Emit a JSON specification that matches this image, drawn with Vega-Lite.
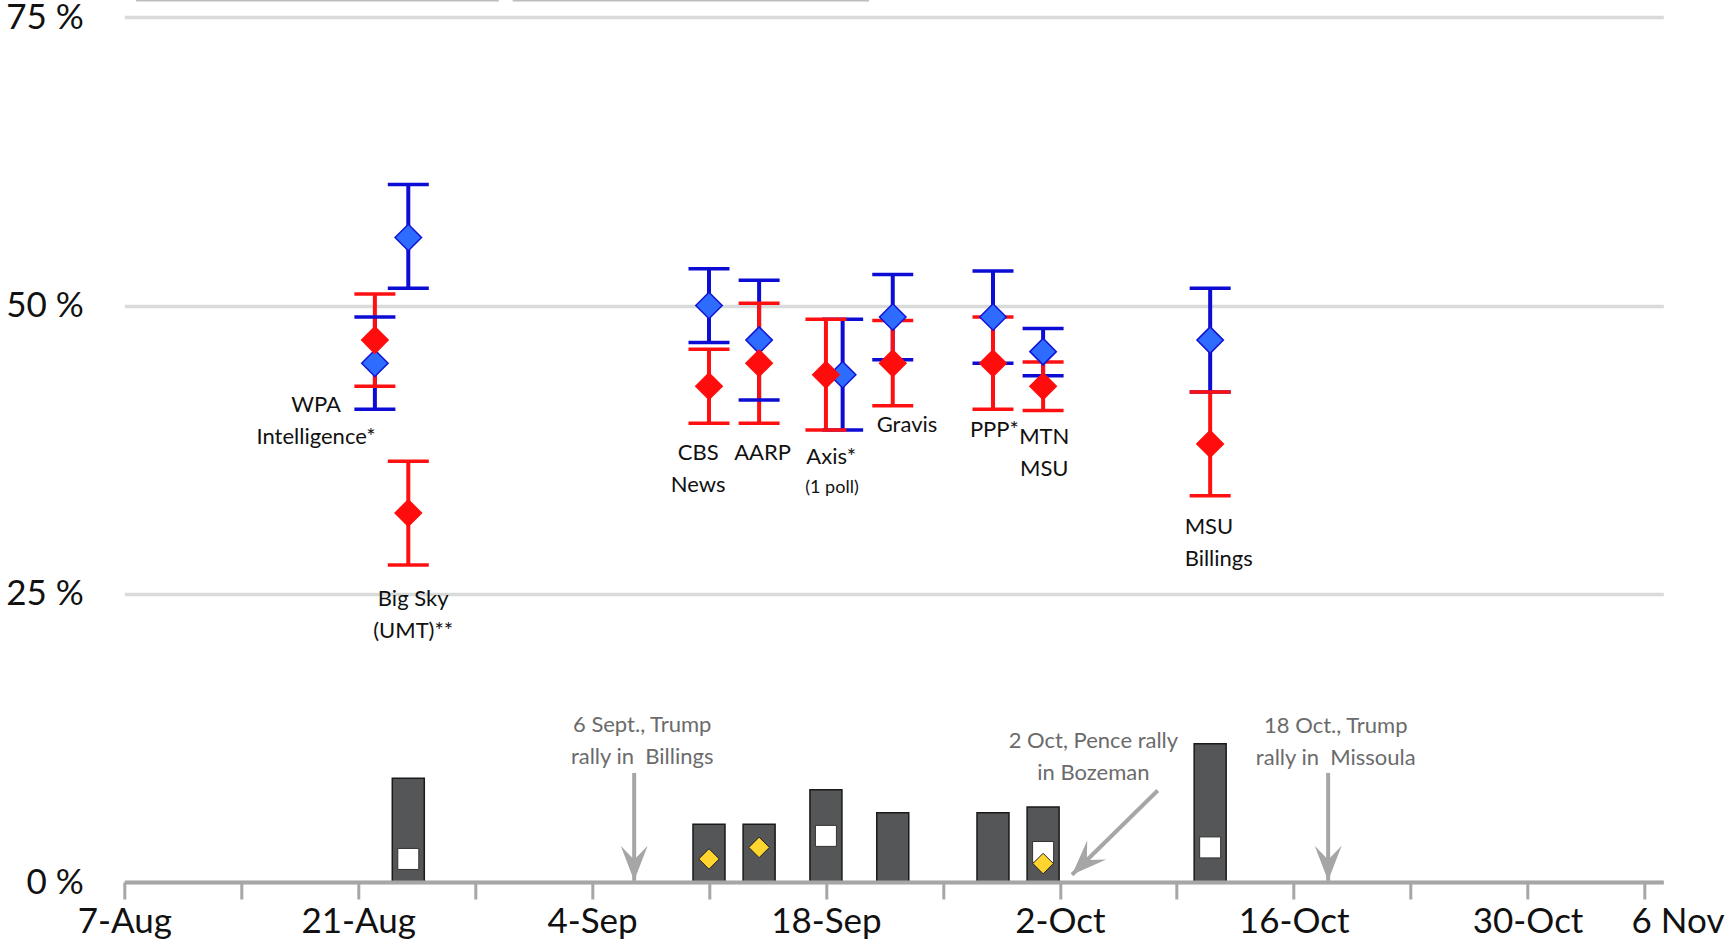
{
  "$schema": "https://vega.github.io/schema/vega-lite/v6.json",
  "width": 1539,
  "height": 882,
  "autosize": {"type": "none"},
  "padding": {"left": 124.3, "top": 0, "right": 69.7, "bottom": 66},
  "background": "white",
  "config": {"view": {"stroke": null}, "font": "Lato"},
  "datasets": {
    "bars": [
      {"date": "2018-08-24", "value": 9},
      {"date": "2018-09-11", "value": 5},
      {"date": "2018-09-14", "value": 5},
      {"date": "2018-09-18", "value": 8},
      {"date": "2018-09-22", "value": 6},
      {"date": "2018-09-28", "value": 6},
      {"date": "2018-10-01", "value": 6.5},
      {"date": "2018-10-11", "value": 12}
    ],
    "other": [
      {"date": "2018-08-24", "value": 2},
      {"date": "2018-09-18", "value": 4},
      {"date": "2018-10-01", "value": 2.6},
      {"date": "2018-10-11", "value": 3}
    ],
    "libertarian": [
      {"date": "2018-09-11", "value": 2},
      {"date": "2018-09-14", "value": 3},
      {"date": "2018-10-01", "value": 1.6}
    ],
    "polls": [
      {"pollster": "WPA Intelligence", "party": "D", "date": "2018-08-22", "value": 45, "lo": 41, "hi": 49},
      {"pollster": "Big Sky", "party": "D", "date": "2018-08-24", "value": 55.9, "lo": 51.5, "hi": 60.5},
      {"pollster": "CBS News", "party": "D", "date": "2018-09-11", "value": 50, "lo": 46.8, "hi": 53.2},
      {"pollster": "AARP", "party": "D", "date": "2018-09-14", "value": 47, "lo": 41.8, "hi": 52.2},
      {"pollster": "Axis", "party": "D", "date": "2018-09-19", "value": 44, "lo": 39.2, "hi": 48.8},
      {"pollster": "Gravis", "party": "D", "date": "2018-09-22", "value": 49, "lo": 45.3, "hi": 52.7},
      {"pollster": "PPP", "party": "D", "date": "2018-09-28", "value": 49, "lo": 45, "hi": 53},
      {"pollster": "MTN MSU", "party": "D", "date": "2018-10-01", "value": 46, "lo": 43.9, "hi": 48},
      {"pollster": "MSU Billings", "party": "D", "date": "2018-10-11", "value": 47, "lo": 42.5, "hi": 51.5},
      {"pollster": "WPA Intelligence", "party": "R", "date": "2018-08-22", "value": 47, "lo": 43, "hi": 51},
      {"pollster": "Big Sky", "party": "R", "date": "2018-08-24", "value": 32, "lo": 27.5, "hi": 36.5},
      {"pollster": "CBS News", "party": "R", "date": "2018-09-11", "value": 43, "lo": 39.8, "hi": 46.2},
      {"pollster": "AARP", "party": "R", "date": "2018-09-14", "value": 45, "lo": 39.8, "hi": 50.2},
      {"pollster": "Axis", "party": "R", "date": "2018-09-18", "value": 44, "lo": 39.2, "hi": 48.8},
      {"pollster": "Gravis", "party": "R", "date": "2018-09-22", "value": 45, "lo": 41.3, "hi": 48.7},
      {"pollster": "PPP", "party": "R", "date": "2018-09-28", "value": 45, "lo": 41, "hi": 49},
      {"pollster": "MTN MSU", "party": "R", "date": "2018-10-01", "value": 43, "lo": 40.9, "hi": 45.1},
      {"pollster": "MSU Billings", "party": "R", "date": "2018-10-11", "value": 38, "lo": 33.5, "hi": 42.5}
    ],
    "labels": [
      {"date": "2018-08-18T11:30:00Z", "value": 41.39, "text": "WPA\nIntelligence*"},
      {"date": "2018-08-24T07:00:00Z", "value": 24.56, "text": "Big Sky\n(UMT)**"},
      {"date": "2018-09-10T08:30:00Z", "value": 37.2, "text": "CBS\nNews"},
      {"date": "2018-09-14T05:00:00Z", "value": 37.2, "text": "AARP"},
      {"date": "2018-09-18T07:40:00Z", "value": 36.85, "text": "Axis*"},
      {"date": "2018-09-22T20:30:00Z", "value": 39.6, "text": "Gravis"},
      {"date": "2018-09-28T02:00:00Z", "value": 39.2, "text": "PPP*"},
      {"date": "2018-10-01T01:40:00Z", "value": 38.64, "text": "MTN\nMSU"}
    ],
    "labels_left": [
      {"date": "2018-10-09T11:20:00Z", "value": 30.8, "text": "MSU\nBillings"}
    ],
    "labels_small": [
      {"date": "2018-09-18T08:40:00Z", "value": 34.15, "text": "(1 poll)"}
    ],
    "events": [
      {"date": "2018-09-07T00:00:00Z", "value": 13.65, "text": "6 Sept., Trump\nrally in\u00a0\u00a0Billings"},
      {"date": "2018-10-04T00:15:00Z", "value": 12.19, "text": "2 Oct, Pence rally\nin Bozeman"},
      {"date": "2018-10-18T12:30:00Z", "value": 13.55, "text": "18 Oct., Trump\nrally in\u00a0\u00a0Missoula"}
    ],
    "arrows_v": [
      {"date": "2018-09-06T12:30:00Z", "top": 9.46, "tip": 0.1},
      {"date": "2018-10-18T01:30:00Z", "top": 9.46, "tip": 0.1}
    ],
    "arrow_d": [
      {"date": "2018-10-07T20:40:00Z", "value": 7.94, "date2": "2018-10-02T17:30:00Z", "value2": 0.63}
    ],
    "legend_lines": [
      {"date": "2018-08-07T17:00:00Z", "date2": "2018-08-29T10:00:00Z", "value": 76.45},
      {"date": "2018-08-30T06:00:00Z", "date2": "2018-09-20T14:00:00Z", "value": 76.45}
    ]
  },
  "layer": [
    {
      "data": {"name": "bars"},
      "mark": {"type": "bar", "width": 32, "fill": "#555658", "stroke": "#1a1a1a", "strokeWidth": 1.5},
      "encoding": {
        "x": {
          "field": "date", "type": "temporal", "title": null,
          "scale": {"type": "utc", "domain": [1533600000000, 1541559600000], "nice": false, "padding": 0},
          "axis": {
            "title": null,
            "values": [1533600000000, 1534204800000, 1534809600000, 1535414400000, 1536019200000, 1536624000000, 1537228800000, 1537833600000, 1538438400000, 1539043200000, 1539648000000, 1540252800000, 1540857600000, 1541462400000],
            "format": "%-d-%b",
            "labelExpr": "datum.label == '6-Nov' ? '6 Nov' : (indexof(['7-Aug','21-Aug','4-Sep','18-Sep','2-Oct','16-Oct','30-Oct'], datum.label) >= 0 ? datum.label : '')",
            "labelOffset": {"condition": {"test": "datum.value >= 1541300000000", "value": 33}, "value": 0},
            "domainColor": "#a6a6a6", "domainWidth": 4,
            "tickColor": "#a6a6a6", "tickWidth": 3, "tickSize": 17,
            "labelFont": "Lato", "labelFontSize": 35, "labelColor": "#111111",
            "labelPadding": 5, "labelOverlap": false, "labelFlush": false,
            "grid": false, "zindex": 1
          }
        },
        "y": {
          "field": "value", "type": "quantitative", "title": null,
          "scale": {"domain": [0, 76.5], "nice": false, "zero": false, "padding": 0},
          "axis": {
            "title": null, "values": [0, 25, 50, 75],
            "domain": false, "ticks": false, "tickSize": 0,
            "grid": true, "gridColor": "#d9dada", "gridWidth": 3.5,
            "labelExpr": "datum.value + ' %'",
            "labelFont": "Lato", "labelFontSize": 35, "labelColor": "#111111",
            "labelPadding": 41, "labelBaseline": "middle"
          }
        }
      }
    },
    {
      "data": {"name": "other"},
      "mark": {"type": "point", "shape": "square", "filled": true, "size": 441, "fill": "white", "stroke": "#333333", "strokeWidth": 1, "opacity": 1},
      "encoding": {
        "x": {"field": "date", "type": "temporal", "title": null},
        "y": {"field": "value", "type": "quantitative", "title": null}
      }
    },
    {
      "data": {"name": "libertarian"},
      "mark": {"type": "point", "shape": "diamond", "filled": true, "size": 420, "fill": "#ffd52e", "stroke": "#222222", "strokeWidth": 1, "opacity": 1},
      "encoding": {
        "x": {"field": "date", "type": "temporal", "title": null},
        "y": {"field": "value", "type": "quantitative", "title": null}
      }
    },
    {
      "data": {"name": "legend_lines"},
      "mark": {"type": "rule", "color": "#bdbdbd", "strokeWidth": 2, "clip": false},
      "encoding": {
        "x": {"field": "date", "type": "temporal", "title": null},
        "x2": {"field": "date2"},
        "y": {"field": "value", "type": "quantitative", "title": null}
      }
    },
    {
      "data": {"name": "arrows_v"},
      "mark": {"type": "rule", "color": "#a6a6a6", "strokeWidth": 4},
      "encoding": {
        "x": {"field": "date", "type": "temporal", "title": null},
        "y": {"field": "top", "type": "quantitative", "title": null},
        "y2": {"field": "tip"}
      }
    },
    {
      "data": {"name": "arrows_v"},
      "mark": {"type": "point", "shape": "M0,0L-0.77,-2L0,-1.2L0.77,-2Z", "filled": true, "size": 1225, "color": "#a6a6a6", "opacity": 1},
      "encoding": {
        "x": {"field": "date", "type": "temporal", "title": null},
        "y": {"field": "tip", "type": "quantitative", "title": null}
      }
    },
    {
      "data": {"name": "arrow_d"},
      "mark": {"type": "rule", "color": "#a6a6a6", "strokeWidth": 4},
      "encoding": {
        "x": {"field": "date", "type": "temporal", "title": null},
        "y": {"field": "value", "type": "quantitative", "title": null},
        "x2": {"field": "date2"},
        "y2": {"field": "value2"}
      }
    },
    {
      "data": {"name": "arrow_d"},
      "mark": {"type": "point", "shape": "M0,0L-0.77,-2L0,-1.2L0.77,-2Z", "filled": true, "size": 1225, "color": "#a6a6a6", "opacity": 1, "angle": 45},
      "encoding": {
        "x": {"field": "date2", "type": "temporal", "title": null},
        "y": {"field": "value2", "type": "quantitative", "title": null}
      }
    },
    {
      "data": {"name": "events"},
      "mark": {"type": "text", "font": "Lato", "fontSize": 22, "color": "#6b6b6b", "align": "center", "baseline": "middle", "lineBreak": "\n", "lineHeight": 32},
      "encoding": {
        "x": {"field": "date", "type": "temporal", "title": null},
        "y": {"field": "value", "type": "quantitative", "title": null},
        "text": {"field": "text"}
      }
    },
    {
      "data": {"name": "polls"},
      "mark": {"type": "rule", "strokeWidth": 4},
      "encoding": {
        "x": {"field": "date", "type": "temporal", "title": null},
        "y": {"field": "lo", "type": "quantitative", "title": null},
        "y2": {"field": "hi"},
        "color": {"field": "party", "type": "nominal", "scale": {"domain": ["R", "D"], "range": ["#ff1010", "#0c0cd4"]}, "legend": null}
      }
    },
    {
      "data": {"name": "polls"},
      "mark": {"type": "tick", "orient": "horizontal", "size": 41, "thickness": 3.5, "opacity": 1},
      "encoding": {
        "x": {"field": "date", "type": "temporal", "title": null},
        "y": {"field": "lo", "type": "quantitative", "title": null},
        "color": {"field": "party", "type": "nominal", "scale": {"domain": ["R", "D"], "range": ["#ff1010", "#0c0cd4"]}, "legend": null}
      }
    },
    {
      "data": {"name": "polls"},
      "mark": {"type": "tick", "orient": "horizontal", "size": 41, "thickness": 3.5, "opacity": 1},
      "encoding": {
        "x": {"field": "date", "type": "temporal", "title": null},
        "y": {"field": "hi", "type": "quantitative", "title": null},
        "color": {"field": "party", "type": "nominal", "scale": {"domain": ["R", "D"], "range": ["#ff1010", "#0c0cd4"]}, "legend": null}
      }
    },
    {
      "data": {"name": "polls"},
      "mark": {"type": "point", "shape": "diamond", "filled": true, "size": 700, "strokeWidth": 1.5, "opacity": 1},
      "encoding": {
        "x": {"field": "date", "type": "temporal", "title": null},
        "y": {"field": "value", "type": "quantitative", "title": null},
        "fill": {"field": "party", "type": "nominal", "scale": {"domain": ["R", "D"], "range": ["#ff0d0d", "#2e6cff"]}, "legend": null},
        "stroke": {"field": "party", "type": "nominal", "scale": {"domain": ["R", "D"], "range": ["#ff0d0d", "#1212d6"]}, "legend": null}
      }
    },
    {
      "data": {"name": "labels"},
      "mark": {"type": "text", "font": "Lato", "fontSize": 22, "color": "#111111", "align": "center", "baseline": "middle", "lineBreak": "\n", "lineHeight": 32},
      "encoding": {
        "x": {"field": "date", "type": "temporal", "title": null},
        "y": {"field": "value", "type": "quantitative", "title": null},
        "text": {"field": "text"}
      }
    },
    {
      "data": {"name": "labels_left"},
      "mark": {"type": "text", "font": "Lato", "fontSize": 22, "color": "#111111", "align": "left", "baseline": "middle", "lineBreak": "\n", "lineHeight": 32},
      "encoding": {
        "x": {"field": "date", "type": "temporal", "title": null},
        "y": {"field": "value", "type": "quantitative", "title": null},
        "text": {"field": "text"}
      }
    },
    {
      "data": {"name": "labels_small"},
      "mark": {"type": "text", "font": "Lato", "fontSize": 18, "color": "#111111", "align": "center", "baseline": "middle"},
      "encoding": {
        "x": {"field": "date", "type": "temporal", "title": null},
        "y": {"field": "value", "type": "quantitative", "title": null},
        "text": {"field": "text"}
      }
    }
  ]
}
